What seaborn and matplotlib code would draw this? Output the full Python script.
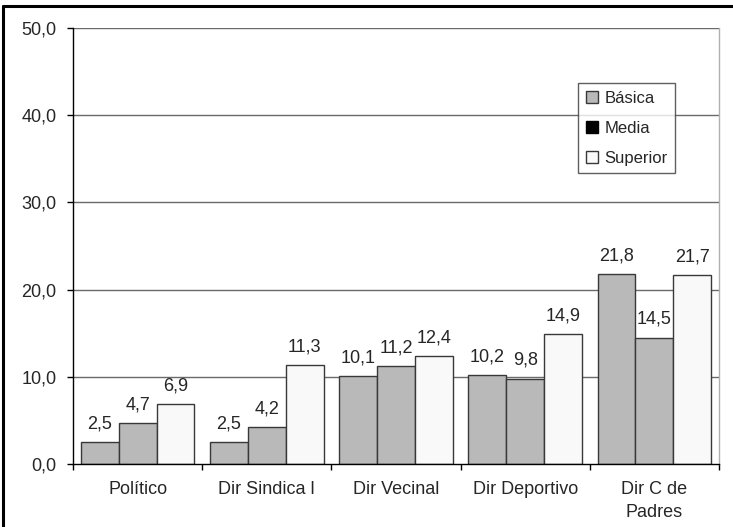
import matplotlib
matplotlib.use("Agg")
import matplotlib.pyplot as plt
import matplotlib.patches as mpatches
import pandas as pd
import seaborn as sns

categorias = ["Político", "Dir Sindica l", "Dir Vecinal", "Dir Deportivo", "Dir C de\nPadres"]
basica = [2.5, 2.5, 10.1, 10.2, 21.8]
media = [4.7, 4.2, 11.2, 9.8, 14.5]
superior = [6.9, 11.3, 12.4, 14.9, 21.7]
niveles = ["Básica", "Media", "Superior"]

df = pd.DataFrame({
    "cat": categorias * 3,
    "nivel": [n for n in niveles for _ in categorias],
    "valor": basica + media + superior,
})

sns.set_theme(style="white")
plt.rcParams["font.family"] = ["Liberation Sans", "DejaVu Sans"]

fig = plt.figure(figsize=(7.33, 5.27), dpi=100)
ax = fig.add_axes([73 / 733, 1 - 464 / 527, (719 - 73) / 733, (464 - 28) / 527])

gris = "#b9b9b9"
blanco = "#f9f9f9"
sns.barplot(data=df, x="cat", y="valor", hue="nivel", order=categorias, hue_order=niveles,
            palette=[gris, gris, blanco], width=0.88, gap=0, saturation=1,
            edgecolor="#383838", linewidth=1, legend=False, ax=ax)

for cont in ax.containers:
    ax.bar_label(cont, labels=[f"{v:.1f}".replace(".", ",") for v in cont.datavalues],
                 padding=7, fontsize=13)

ax.set_ylim(0, 50)
ax.set_xlim(-0.5, len(categorias) - 0.5)
ax.set_yticks([0, 10, 20, 30, 40, 50])
ax.set_yticklabels([f"{v:.1f}".replace(".", ",") for v in [0, 10, 20, 30, 40, 50]], fontsize=13)
ax.set_xticks(range(len(categorias)))
ax.set_xticklabels(categorias, fontsize=13, linespacing=1.4)
ax.set_xticks([i - 0.5 for i in range(len(categorias) + 1)], minor=True)
ax.tick_params(axis="x", which="major", length=0, pad=12.5)
ax.tick_params(axis="x", which="minor", length=4.5, width=1, color="black", direction="out", bottom=True)
ax.tick_params(axis="y", length=4.5, width=1, color="black", direction="out", left=True, pad=7.5)
ax.set_xlabel("")
ax.set_ylabel("")

for y in [10, 20, 30, 40, 50]:
    ax.axhline(y, color="#6a6a6a", lw=1, zorder=0)
ax.set_axisbelow(True)

ax.spines["left"].set_color("black")
ax.spines["bottom"].set_color("black")
ax.spines["right"].set_color("#b0b0b0")
ax.spines["top"].set_visible(False)
for s in ax.spines.values():
    s.set_linewidth(1)

handles = [mpatches.Patch(facecolor=gris, edgecolor="#383838", label="Básica"),
           mpatches.Patch(facecolor="black", edgecolor="black", label="Media"),
           mpatches.Patch(facecolor=blanco, edgecolor="#383838", label="Superior")]
leg = ax.legend(handles=handles, loc="upper left", bbox_to_anchor=((578 - 73) / 646, 1 - (83 - 28) / 436),
                fontsize=12, frameon=True, fancybox=False, shadow=False, handlelength=0.75,
                handleheight=0.75, handletextpad=0.4, labelspacing=0.9, borderpad=0.45,
                borderaxespad=0)
leg.get_frame().set_edgecolor("#383838")
leg.get_frame().set_linewidth(1)

# marco de la figura (izquierda y arriba)
fig.add_artist(plt.Line2D([3 / 733, 3 / 733], [0, 1 - 6 / 527], color="black", lw=2.2,
                          transform=fig.transFigure))
fig.add_artist(plt.Line2D([3 / 733, 1], [1 - 6 / 527, 1 - 6 / 527], color="black", lw=2.2,
                          transform=fig.transFigure))

fig.savefig("out.png", dpi=100)
